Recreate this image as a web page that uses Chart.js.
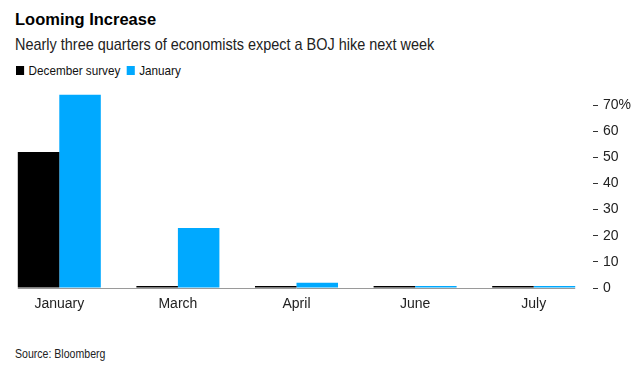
<!DOCTYPE html>
<html>
<head>
<meta charset="utf-8">
<script src="https://cdn.jsdelivr.net/npm/chart.js@4"></script>
<style>
  html, body { margin: 0; padding: 0; background: #fff; }
  body { width: 643px; height: 375px; position: relative; overflow: hidden; font-family: "Liberation Sans", Arial, sans-serif; color: #000; }
  .txt { position: absolute; white-space: nowrap; transform-origin: 0 0; }
  #title { left: 15px; top: 10px; font-size: 17px; font-weight: bold; transform: scaleX(0.97); }
  #subtitle { left: 15px; top: 35px; font-size: 17px; color: #222; transform: scaleX(0.85); }
  #legend { left: 16px; top: 63px; font-size: 13px; color: #111; display: flex; align-items: center; transform: scaleX(0.9); }
  #legend span.box { display: inline-block; width: 9px; height: 9px; margin-right: 5px; }
  #legend span.item { display: inline-flex; align-items: center; margin-right: 7px; }
  #source { left: 15px; top: 347px; font-size: 12px; color: #222; transform: scaleX(0.88); }
  #wrap { position: absolute; left: 0; top: 76px; width: 643px; height: 242px; }
</style>
</head>
<body>
<div id="title" class="txt">Looming Increase</div>
<div id="subtitle" class="txt">Nearly three quarters of economists expect a BOJ hike next week</div>
<div id="legend" class="txt"></div>
<div id="wrap"><canvas id="c"></canvas></div>
<div id="source" class="txt">Source: Bloomberg</div>
<script>
const months = ['January', 'March', 'April', 'June', 'July'];
const decemberSurvey = [52, 0, 0, 0, 0];
const januarySurvey = [74, 23, 2, 0, 0];
const yTicks = [0, 10, 20, 30, 40, 50, 60, 70];

const BLACK = '#000000';
const BLUE = '#00a9ff';

const series = [
  { label: 'December survey', data: decemberSurvey, color: BLACK },
  { label: 'January', data: januarySurvey, color: BLUE },
];

document.getElementById('legend').innerHTML = series
  .map(s => `<span class="item"><span class="box" style="background:${s.color}"></span>${s.label}</span>`)
  .join('');

// gray zero line spanning from first bar to last bar
const baseline = {
  id: 'baseline',
  beforeDatasetsDraw(chart) {
    const first = chart.getDatasetMeta(0).data[0];
    const lastMeta = chart.getDatasetMeta(chart.data.datasets.length - 1).data;
    const last = lastMeta[lastMeta.length - 1];
    const y = chart.scales.y.getPixelForValue(0);
    const ctx = chart.ctx;
    ctx.save();
    ctx.strokeStyle = '#9a9a9a';
    ctx.lineWidth = 1;
    ctx.beginPath();
    ctx.moveTo(first.x - first.width / 2, y + 0.5);
    ctx.lineTo(last.x + last.width / 2, y + 0.5);
    ctx.stroke();
    ctx.restore();
  },
};

new Chart(document.getElementById('c'), {
  type: 'bar',
  data: {
    labels: months,
    datasets: series.map(s => ({
      label: s.label,
      data: s.data,
      backgroundColor: s.color,
      borderWidth: 0,
      minBarLength: 2,
      categoryPercentage: 0.7,
      barPercentage: 1,
    })),
  },
  options: {
    responsive: true,
    maintainAspectRatio: false,
    animation: false,
    layout: { padding: { top: 3, left: 0, right: 0, bottom: 0 } },
    plugins: {
      legend: { display: false },
      tooltip: { enabled: false },
    },
    scales: {
      x: {
        grid: { display: false, drawTicks: false },
        border: { display: false },
        ticks: { color: '#222', font: { family: 'Liberation Sans', size: 14 }, padding: 8, maxRotation: 0 },
        afterFit: s => { s.height = 30; },
      },
      y: {
        position: 'right',
        min: 0,
        max: 76,
        afterBuildTicks: s => { s.ticks = yTicks.map(v => ({ value: v })); },
        ticks: {
          color: '#222',
          font: { family: 'Liberation Sans', size: 14 },
          padding: 5,
          callback: v => (v === 70 ? v + '%' : v),
        },
        grid: { drawOnChartArea: false, tickLength: 5, tickColor: '#333', tickWidth: 1 },
        border: { display: false },
        afterFit: s => { s.width = 50; },
      },
    },
  },
  plugins: [baseline],
});
</script>
</body>
</html>
